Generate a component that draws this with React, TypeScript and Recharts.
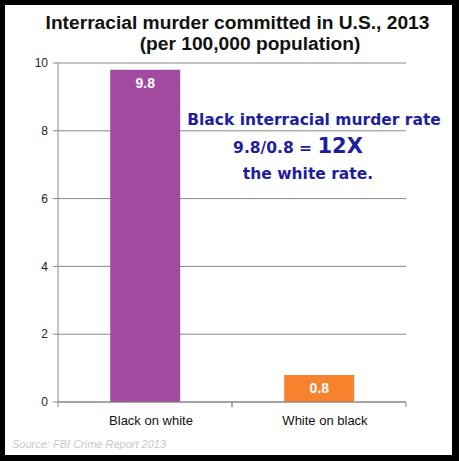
import React from 'react';
import { BarChart, Bar, XAxis, YAxis, CartesianGrid, Cell, LabelList } from 'recharts';

const categories = ['Black on white', 'White on black'];
const rates = [9.8, 0.8];
const barColors = ['#A04BA0', '#F9822F'];
const yTicks = [0, 2, 4, 6, 8, 10];

const data = categories.map((name, i) => ({ name, rate: rates[i] }));

const FONT = 'Arial, "Liberation Sans", sans-serif';

// x labels sit slightly right of the bars, plus small ticks at the category edges
const XTick = (props: any) => {
  const { x, y, payload } = props;
  const axisY = y - 14;
  const half = payload && payload.offset ? payload.offset : 87;
  return (
    <g>
      <line x1={x - half} x2={x - half} y1={axisY} y2={axisY + 5} stroke="#888" />
      <line x1={x + half} x2={x + half} y1={axisY} y2={axisY + 5} stroke="#888" />
      <text x={x + 6} y={y} dy="0.71em" textAnchor="middle" fontSize={13} fontFamily={FONT} fill="#111">
        {payload.value}
      </text>
    </g>
  );
};

const BarValue = (props: any) => {
  const { x, y, width, value } = props;
  return (
    <text x={x + width / 2} y={y + 18} textAnchor="middle" fontSize={14} fontWeight="bold" fontFamily={FONT} fill="#fff">
      {value}
    </text>
  );
};

export default function App() {
  return (
    <div style={{ position: 'absolute', left: 0, top: 0, width: 459, height: 461, background: '#000' }}>
      <div style={{ position: 'absolute', left: 5, top: 5, width: 447, height: 450, background: '#fff' }} />
      <div style={{ position: 'absolute', left: 0, top: 0 }}>
        <BarChart
          width={459}
          height={461}
          data={data}
          margin={{ top: 63, right: 53, bottom: 29, left: 0 }}
          barCategoryGap="30%"
        >
          <CartesianGrid vertical={false} stroke="#888" />
          <XAxis
            dataKey="name"
            height={30}
            stroke="#888"
            tickLine={false}
            tickSize={6}
            tickMargin={8}
            tick={<XTick />}
          />
          <YAxis
            width={58}
            domain={[0, 10]}
            ticks={yTicks}
            stroke="#888"
            tickSize={5}
            tickMargin={5}
            tick={{ fontSize: 12, fontFamily: FONT, fill: '#222' }}
          />
          <Bar dataKey="rate" isAnimationActive={false}>
            {data.map((d, i) => (
              <Cell key={d.name} fill={barColors[i]} />
            ))}
            <LabelList dataKey="rate" content={<BarValue />} />
          </Bar>
        </BarChart>
      </div>
      <svg width={459} height={461} style={{ position: 'absolute', left: 0, top: 0, pointerEvents: 'none' }}>
        <text x={237.5} y={29} textAnchor="middle" fontSize={19.2} fontWeight="bold" fontFamily={FONT} fill="#111">
          Interracial murder committed in U.S., 2013
        </text>
        <text x={250} y={50} textAnchor="middle" fontSize={19.2} fontWeight="bold" fontFamily={FONT} fill="#111">
          (per 100,000 population)
        </text>
        <g fontFamily='"DejaVu Sans", Verdana, sans-serif' fontWeight="bold" fill="#1E1E9E">
          <text x={314} y={125} textAnchor="middle" fontSize={15.5}>
            Black interracial murder rate
          </text>
          <text x={298} y={153} textAnchor="middle" fontSize={15.5}>
            9.8/0.8 = <tspan fontSize={21}>12X</tspan>
          </text>
          <text x={308} y={179} textAnchor="middle" fontSize={15.5}>
            the white rate.
          </text>
        </g>
        <text x={12} y={448} fontSize={11} fontStyle="italic" fontFamily={FONT} fill="#C8C8C8">
          Source: FBI Crime Report 2013
        </text>
      </svg>
    </div>
  );
}
